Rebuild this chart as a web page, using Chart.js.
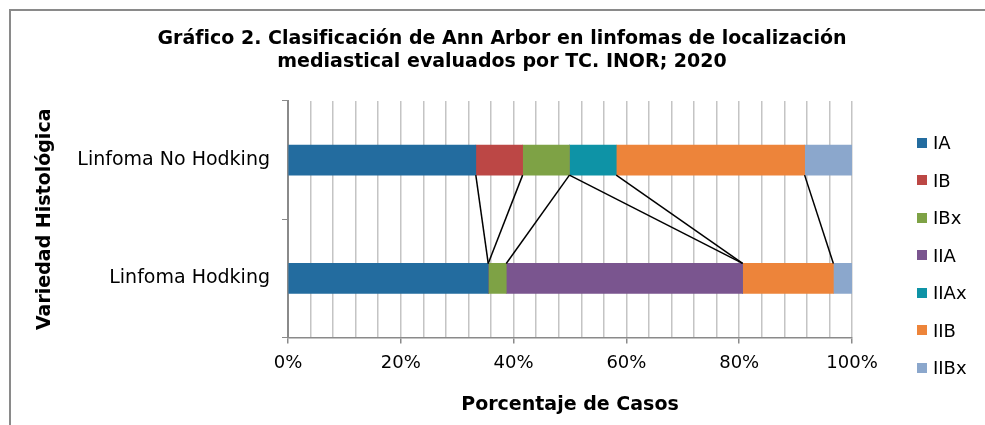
<!DOCTYPE html>
<html lang="es">
<head>
    <meta charset="UTF-8">
    <title>Clasificación de Ann Arbor</title>
    <script src="https://cdn.jsdelivr.net/npm/chart.js"></script>
    <style>
        html, body { margin: 0; background: #fff; overflow: hidden; font-family: "DejaVu Sans", sans-serif; }
        .frame { position: absolute; left: 9px; top: 9px; right: -20px; bottom: -20px;
                 border-left: 2px solid #8a8a8a; border-top: 2px solid #8a8a8a; }
        .wrap { position: absolute; left: 0; top: 0; width: 985px; height: 425px; }
        #legend { position: absolute; left: 917px; top: 124px; }
        .item { height: 37.5px; display: flex; align-items: center; font-size: 18px; color: #000; }
        .box { width: 10px; height: 10px; margin-right: 6px; }
    </style>
</head>
<body>
    <div class="frame"></div>
    <div class="wrap"><canvas id="myChart" width="985" height="425"></canvas></div>
    <div id="legend"></div>

    <script>
        // categories (top to bottom)
        const categories = ['Linfoma No Hodking', 'Linfoma Hodking'];
        // Ann Arbor stages, % of cases in each category
        const stages = ['IA', 'IB', 'IBx', 'IIA', 'IIAx', 'IIB', 'IIBx'];
        const IA   = [33.3, 35.5];
        const IB   = [8.3, 0];
        const IBx  = [8.3, 3.2];
        const IIA  = [0, 41.9];
        const IIAx = [8.3, 0];
        const IIB  = [33.4, 16.1];
        const IIBx = [8.4, 3.3];
        const xTicks = [0, 20, 40, 60, 80, 100];

        const seriesValues = [IA, IB, IBx, IIA, IIAx, IIB, IIBx];
        const colors = ['#236c9f', '#bc4745', '#7ea245', '#7a558f', '#0e93a6', '#ed843a', '#8ba7cc'];
        const font = 'DejaVu Sans';

        // Excel style series lines between the two bars
        const seriesLines = {
            id: 'seriesLines',
            afterDatasetsDraw(chart) {
                const ctx = chart.ctx;
                ctx.save();
                ctx.strokeStyle = '#000';
                ctx.lineWidth = 1.5;
                for (let i = 0; i < seriesValues.length - 1; i++) {
                    const bars = chart.getDatasetMeta(i).data;
                    const a = bars[0], b = bars[1];
                    ctx.beginPath();
                    ctx.moveTo(a.x, a.y + a.height / 2);
                    ctx.lineTo(b.x, b.y - b.height / 2);
                    ctx.stroke();
                }
                ctx.restore();
            }
        };

        const ctx = document.getElementById('myChart').getContext('2d');
        new Chart(ctx, {
            type: 'bar',
            data: {
                labels: categories,
                datasets: stages.map((s, i) => ({
                    label: s,
                    data: seriesValues[i],
                    backgroundColor: colors[i],
                    borderWidth: 0,
                    barThickness: 30
                }))
            },
            options: {
                indexAxis: 'y',
                responsive: false,
                animation: false,
                layout: { padding: { left: 19, right: 0, top: 10, bottom: 4 } },
                plugins: {
                    legend: { display: false },
                    tooltip: { enabled: false },
                    title: {
                        display: true,
                        text: ['Gráfico 2. Clasificación de Ann Arbor en linfomas de localización',
                               'mediastical evaluados por TC. INOR; 2020'],
                        color: '#000',
                        font: { family: font, size: 19, weight: 'bold', lineHeight: 1.21 },
                        padding: { top: 18, bottom: 27 }
                    }
                },
                scales: {
                    x: {
                        stacked: true,
                        min: 0,
                        max: 100,
                        afterBuildTicks: (s) => { s.ticks = []; for (let v = 0; v <= 100; v += 4) s.ticks.push({ value: v }); },
                        ticks: {
                            autoSkip: false,
                            maxRotation: 0,
                            padding: 9,
                            color: '#000',
                            font: { family: font, size: 18 },
                            callback: (v) => xTicks.includes(v) ? v + '%' : ''
                        },
                        grid: {
                            color: '#c4c4c4',
                            lineWidth: 1.5,
                            tickLength: 6,
                            tickColor: (c) => (c.tick && xTicks.includes(c.tick.value)) ? '#8a8a8a' : 'rgba(0,0,0,0)'
                        },
                        border: { color: '#8a8a8a', width: 1.5 },
                        title: {
                            display: true,
                            text: 'Porcentaje de Casos',
                            color: '#000',
                            font: { family: font, size: 19, weight: 'bold' },
                            padding: { top: 10, bottom: 5 }
                        }
                    },
                    y: {
                        stacked: true,
                        afterFit: (s) => { s.width = 288 - 19; },
                        ticks: { padding: 12, color: '#000', font: { family: font, size: 19 } },
                        grid: { drawOnChartArea: false, offset: true, tickLength: 6, color: '#8a8a8a' },
                        border: { color: '#8a8a8a', width: 2 },
                        title: {
                            display: true,
                            text: 'Variedad Histológica',
                            color: '#000',
                            font: { family: font, size: 19, weight: 'bold' },
                            padding: { top: 15, bottom: 0 }
                        }
                    },
                    pad: {
                        type: 'linear',
                        position: 'right',
                        grid: { display: false },
                        ticks: { display: false },
                        border: { display: false },
                        afterFit: (s) => { s.width = 985 - 852; }
                    }
                }
            },
            plugins: [seriesLines]
        });

        // legend built from the same series
        const legend = document.getElementById('legend');
        stages.forEach((s, i) => {
            const row = document.createElement('div');
            row.className = 'item';
            row.innerHTML = '<span class="box" style="background:' + colors[i] + '"></span>' + s;
            legend.appendChild(row);
        });
    </script>
</body>
</html>
